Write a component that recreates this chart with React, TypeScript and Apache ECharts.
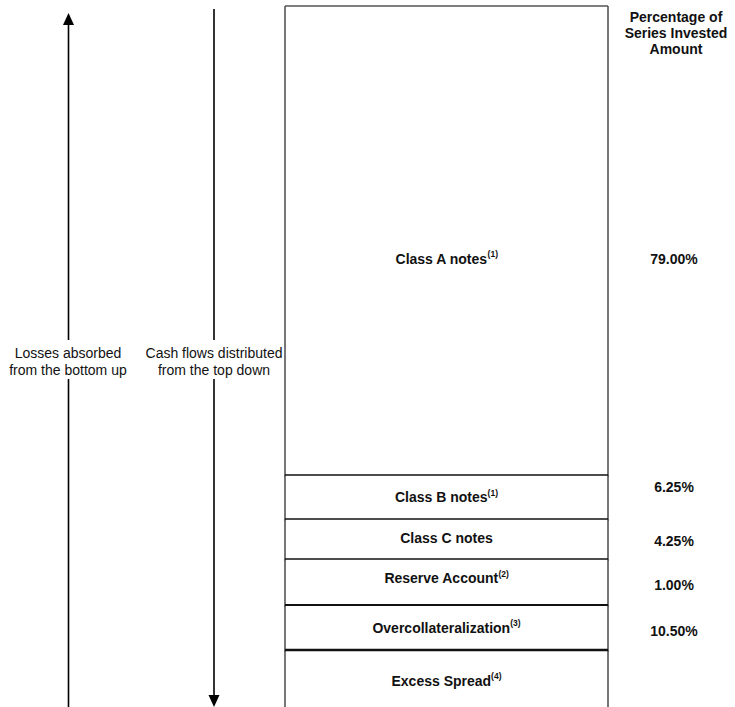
import React, { useEffect, useRef } from "react";
import * as echarts from "echarts";

// Tranches, top to bottom
const tierNames = [
  "Class A notes",
  "Class B notes",
  "Class C notes",
  "Reserve Account",
  "Overcollateralization",
  "Excess Spread",
];
const tierNotes = ["(1)", "(1)", "", "(2)", "(3)", "(4)"];
const tierPercents: (number | null)[] = [79.0, 6.25, 4.25, 1.0, 10.5, null];

// Drawing units of each box (the diagram is not to scale)
const tierDisplayUnits = [469, 44, 40, 46, 45, 57];

const headerLines = ["Percentage of", "Series Invested", "Amount"];
const upArrowLabel = ["Losses absorbed", "from the bottom up"];
const downArrowLabel = ["Cash flows distributed", "from the top down"];

// styling tweaks (px)
const labelShift = [18, 0, -1, -4, 0, 2];
const pctShift = [18, -10, 2, 3, 3, 0];
const topLineWidth = [1.5, 1.5, 1.5, 1.5, 2, 2.5];

const FONT = "'Liberation Sans', Arial, sans-serif";

export default function App() {
  const ref = useRef<HTMLDivElement>(null);
  useEffect(() => {
    document.body.style.margin = "0";
    const chart = echarts.init(ref.current!, null, { renderer: "svg" });

    const total = tierDisplayUnits.reduce((a, b) => a + b, 0);
    let acc = 0;
    const data = tierDisplayUnits.map((h, i) => {
      const start = acc;
      acc += h;
      return [i, start, acc];
    });

    const renderItem = (params: any, api: any) => {
      const i = api.value(0);
      const start = api.value(1);
      const end = api.value(2);
      const p0 = api.coord([0, start]);
      const p1 = api.coord([1, end]);
      const x0 = p0[0];
      const x1 = p1[0];
      const y0 = p0[1];
      const y1 = p1[1];
      const cy = (y0 + y1) / 2;
      const note = tierNotes[i];
      const pct = tierPercents[i];
      const children: any[] = [
        {
          type: "rect",
          shape: { x: x0, y: y0, width: x1 - x0, height: y1 - y0 },
          style: { fill: "#fff" },
          silent: true,
        },
        {
          type: "line",
          shape: { x1: x0, y1: y0, x2: x0, y2: y1 + 2 },
          style: { stroke: "#555", lineWidth: 1.6 },
        },
        {
          type: "line",
          shape: { x1: x1, y1: y0, x2: x1, y2: y1 + 2 },
          style: { stroke: "#555", lineWidth: 1.6 },
        },
        {
          type: "line",
          shape: { x1: x0, y1: y0, x2: x1, y2: y0 },
          style: { stroke: i === 0 ? "#555" : "#111", lineWidth: topLineWidth[i] },
        },
        {
          type: "text",
          style: {
            text: note ? `{m|${tierNames[i]}}{s|${note}}` : `{m|${tierNames[i]}}`,
            x: (x0 + x1) / 2,
            y: cy + labelShift[i],
            align: "center",
            verticalAlign: "middle",
            rich: {
              m: {
                fontFamily: FONT,
                fontWeight: "bold",
                fontSize: 14,
                lineHeight: 18,
                fill: "#111",
              },
              s: {
                fontFamily: FONT,
                fontWeight: "bold",
                fontSize: 8.5,
                lineHeight: 18,
                verticalAlign: "top",
                fill: "#111",
              },
            },
          },
        },
      ];
      if (pct !== null && pct !== undefined) {
        children.push({
          type: "text",
          style: {
            text: pct.toFixed(2) + "%",
            x: x1 + 66,
            y: cy + pctShift[i],
            align: "center",
            verticalAlign: "middle",
            fontFamily: FONT,
            fontWeight: "bold",
            fontSize: 14,
            fill: "#111",
          },
        });
      }
      return { type: "group", children };
    };

    const lineStyle = { stroke: "#000", lineWidth: 1.6 };

    chart.setOption({
      animation: false,
      grid: { left: 285, right: 127, top: 6, bottom: 0 },
      xAxis: { type: "value", min: 0, max: 1, show: false },
      yAxis: { type: "value", min: 0, max: total, inverse: true, show: false },
      series: [
        {
          type: "custom",
          renderItem,
          data,
          encode: { x: -1, y: [1, 2] },
          clip: false,
        },
      ],
      graphic: [
        // up arrow (losses)
        { type: "line", shape: { x1: 68.5, y1: 24, x2: 68.5, y2: 340 }, style: lineStyle },
        { type: "line", shape: { x1: 68.5, y1: 379, x2: 68.5, y2: 707 }, style: lineStyle },
        {
          type: "polygon",
          shape: { points: [[68.5, 13], [63, 25], [74, 25]] },
          style: { fill: "#000" },
        },
        // down arrow (cash flows)
        { type: "line", shape: { x1: 214, y1: 9, x2: 214, y2: 340 }, style: lineStyle },
        { type: "line", shape: { x1: 214, y1: 379, x2: 214, y2: 696 }, style: lineStyle },
        {
          type: "polygon",
          shape: { points: [[214, 707], [208.5, 695], [219.5, 695]] },
          style: { fill: "#000" },
        },
        {
          type: "text",
          style: {
            text: upArrowLabel.join("\n"),
            x: 68,
            y: 344,
            align: "center",
            verticalAlign: "top",
            fontFamily: FONT,
            fontSize: 14,
            lineHeight: 17,
            fill: "#111",
          },
        },
        {
          type: "text",
          style: {
            text: downArrowLabel.join("\n"),
            x: 214,
            y: 344,
            align: "center",
            verticalAlign: "top",
            fontFamily: FONT,
            fontSize: 14,
            lineHeight: 17,
            fill: "#111",
          },
        },
        {
          type: "text",
          style: {
            text: headerLines.join("\n"),
            x: 676,
            y: 9,
            align: "center",
            verticalAlign: "top",
            fontFamily: FONT,
            fontWeight: "bold",
            fontSize: 14,
            lineHeight: 16,
            fill: "#111",
          },
        },
      ],
    });
    return () => chart.dispose();
  }, []);
  return <div ref={ref} style={{ width: 735, height: 707 }} />;
}
